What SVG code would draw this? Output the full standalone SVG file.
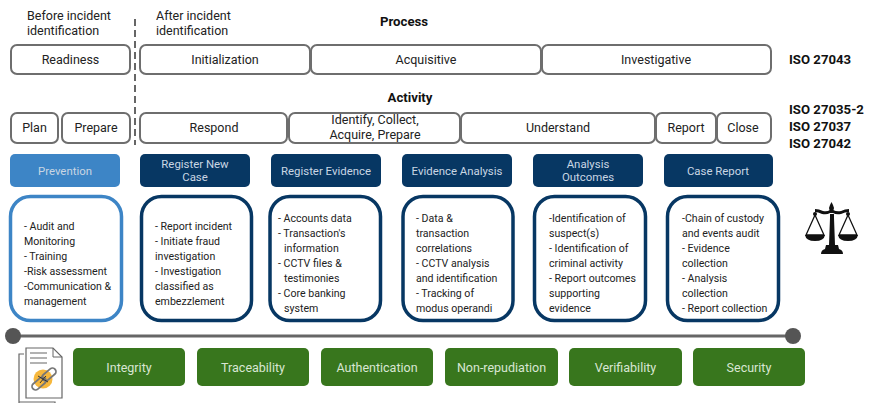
<svg xmlns="http://www.w3.org/2000/svg" width="869" height="403" viewBox="0 0 869 403">
<style>
text{font-family:Roboto,"Liberation Sans",sans-serif;fill:#222}
.c{text-anchor:middle}
.o{fill:#fff;stroke:#6e6e6e;stroke-width:2}
.ot{font-size:12.5px}
.h{font-size:11.4px;fill:#c9d6e3;text-anchor:middle}
.hb{fill:#073763}
.hl{fill:#3d85c6}
.d{fill:#fff;stroke:#073763;stroke-width:3.5}
.dl{stroke:#3d85c6}
.dt{font-size:10.6px}
.g{fill:#38761d}
.gt{font-size:12.5px;fill:#d9e6d3;text-anchor:middle}
.iso{font-size:13.2px;font-weight:700;fill:#111}
.b{font-size:13.2px;font-weight:700;fill:#111;text-anchor:middle}
</style>
<rect width="869" height="403" fill="#fff"/>
<g id="connectors">
<line x1="135" y1="19" x2="135" y2="145" stroke="#666" stroke-width="2" stroke-dasharray="7 4"/>
<line x1="13" y1="336" x2="793" y2="336" stroke="#666" stroke-width="3"/>
<circle cx="13" cy="336" r="8" fill="#555"/>
<circle cx="793" cy="336" r="8" fill="#555"/>
</g>
<g id="labels">
<text class="ot" x="27" y="20">Before incident</text><text class="ot" x="27" y="35">identification</text>
<text class="ot" x="156" y="20">After incident</text><text class="ot" x="156" y="35">identification</text>
<text class="b" x="404" y="26">Process</text>
<text class="b" x="410" y="102">Activity</text>
<text class="iso" x="789" y="64">ISO 27043</text>
<text class="iso" x="789" y="114">ISO 27035-2</text>
<text class="iso" x="789" y="131">ISO 27037</text>
<text class="iso" x="789" y="148">ISO 27042</text>
</g>
<g id="readiness"><rect class="o" x="11" y="45" width="119" height="29" rx="6"/><text class="ot c" x="70.500" y="64">Readiness</text></g>
<g id="initialization"><rect class="o" x="140" y="45" width="170" height="29" rx="6"/><text class="ot c" x="225" y="64">Initialization</text></g>
<g id="acquisitive"><rect class="o" x="311" y="45" width="230" height="29" rx="6"/><text class="ot c" x="426" y="64">Acquisitive</text></g>
<g id="investigative"><rect class="o" x="542" y="45" width="229" height="29" rx="6"/><text class="ot c" x="656" y="64">Investigative</text></g>
<g id="plan"><rect class="o" x="11" y="113" width="47" height="30" rx="6"/><text class="ot c" x="34.500" y="132">Plan</text></g>
<g id="prepare"><rect class="o" x="62" y="113" width="68" height="30" rx="6"/><text class="ot c" x="96" y="132">Prepare</text></g>
<g id="respond"><rect class="o" x="140" y="113" width="147" height="30" rx="6"/><text class="ot c" x="214" y="132">Respond</text></g>
<g id="identify"><rect class="o" x="289" y="113" width="171" height="30" rx="6"/><text class="ot c" x="375" y="124">Identify, Collect,</text><text class="ot c" x="375" y="139">Acquire, Prepare</text></g>
<g id="understand"><rect class="o" x="461" y="113" width="194" height="30" rx="6"/><text class="ot c" x="558" y="132">Understand</text></g>
<g id="report"><rect class="o" x="656" y="113" width="60" height="30" rx="6"/><text class="ot c" x="686" y="132">Report</text></g>
<g id="close"><rect class="o" x="717" y="113" width="54" height="30" rx="6"/><text class="ot c" x="743" y="132">Close</text></g>
<g id="prevention"><rect class="hl" x="10" y="154" width="110" height="33" rx="5"/><text class="h" x="65" y="175">Prevention</text></g>
<g id="register-new-case"><rect class="hb" x="140" y="154" width="110" height="33" rx="5"/><text class="h" x="195" y="168">Register New</text><text class="h" x="195" y="181">Case</text></g>
<g id="register-evidence"><rect class="hb" x="271" y="154" width="110" height="33" rx="5"/><text class="h" x="326" y="175">Register Evidence</text></g>
<g id="evidence-analysis"><rect class="hb" x="402" y="154" width="110" height="33" rx="5"/><text class="h" x="457" y="175">Evidence Analysis</text></g>
<g id="analysis-outcomes"><rect class="hb" x="533" y="154" width="110" height="33" rx="5"/><text class="h" x="588" y="168">Analysis</text><text class="h" x="588" y="181">Outcomes</text></g>
<g id="case-report"><rect class="hb" x="664" y="154" width="109" height="33" rx="5"/><text class="h" x="718" y="175">Case Report</text></g>
<g id="detail-prevention"><rect class="d dl" x="10.500" y="196.500" width="111" height="124" rx="20"/><text class="dt" x="24" y="230">- Audit and</text><text class="dt" x="24" y="245">Monitoring</text><text class="dt" x="24" y="260">- Training</text><text class="dt" x="24" y="275">-Risk assessment</text><text class="dt" x="24" y="290">-Communication &amp;</text><text class="dt" x="24" y="305">management</text></g>
<g id="detail-register-case"><rect class="d" x="141.500" y="196.500" width="110" height="124" rx="20"/><text class="dt" x="155" y="230">- Report incident</text><text class="dt" x="155" y="245">- Initiate fraud</text><text class="dt" x="155" y="260">investigation</text><text class="dt" x="155" y="275">- Investigation</text><text class="dt" x="155" y="290">classified as</text><text class="dt" x="155" y="305">embezzlement</text></g>
<g id="detail-register-evidence"><rect class="d" x="270" y="196.500" width="110.500" height="124" rx="20"/><text class="dt" x="278" y="222">- Accounts data</text><text class="dt" x="278" y="237">- Transaction's</text><text class="dt" x="284" y="252">information</text><text class="dt" x="278" y="267">- CCTV files &amp;</text><text class="dt" x="284" y="282">testimonies</text><text class="dt" x="278" y="297">- Core banking</text><text class="dt" x="284" y="312">system</text></g>
<g id="detail-evidence-analysis"><rect class="d" x="403" y="196.500" width="110" height="124" rx="20"/><text class="dt" x="416" y="222">- Data &amp;</text><text class="dt" x="416" y="237">transaction</text><text class="dt" x="416" y="252">correlations</text><text class="dt" x="416" y="267">- CCTV analysis</text><text class="dt" x="416" y="282">and identification</text><text class="dt" x="416" y="297">- Tracking of</text><text class="dt" x="416" y="312">modus operandi</text></g>
<g id="detail-outcomes"><rect class="d" x="534.500" y="196.500" width="111" height="124" rx="20"/><text class="dt" x="549" y="222">-Identification of</text><text class="dt" x="549" y="237">suspect(s)</text><text class="dt" x="549" y="252">- Identification of</text><text class="dt" x="549" y="267">criminal activity</text><text class="dt" x="549" y="282">- Report outcomes</text><text class="dt" x="549" y="297">supporting</text><text class="dt" x="549" y="312">evidence</text></g>
<g id="detail-case-report"><rect class="d" x="667.500" y="196.500" width="111" height="124" rx="20"/><text class="dt" x="682" y="222">-Chain of custody</text><text class="dt" x="682" y="237">and events audit</text><text class="dt" x="682" y="252">- Evidence</text><text class="dt" x="682" y="267">collection</text><text class="dt" x="682" y="282">- Analysis</text><text class="dt" x="682" y="297">collection</text><text class="dt" x="682" y="312">- Report collection</text></g>
<g id="integrity"><rect class="g" x="73" y="348" width="112" height="38" rx="5"/><text class="gt" x="129" y="372">Integrity</text></g>
<g id="traceability"><rect class="g" x="197" y="348" width="112" height="38" rx="5"/><text class="gt" x="253" y="372">Traceability</text></g>
<g id="authentication"><rect class="g" x="321" y="348" width="112" height="38" rx="5"/><text class="gt" x="377" y="372">Authentication</text></g>
<g id="non-repudiation"><rect class="g" x="445" y="348" width="113" height="38" rx="5"/><text class="gt" x="501.500" y="372">Non-repudiation</text></g>
<g id="verifiability"><rect class="g" x="569" y="348" width="113" height="38" rx="5"/><text class="gt" x="625.500" y="372">Verifiability</text></g>
<g id="security"><rect class="g" x="693" y="348" width="112" height="38" rx="5"/><text class="gt" x="749" y="372">Security</text></g>
<g id="document-icon" fill="none" stroke="#666">
<path d="M24 354H19V403M19 402H55V404" stroke-width="1.200"/>
<path d="M26 348H53L62 357V398H26Z" fill="#fff" stroke-width="1.200"/>
<path d="M53 348V357H62" stroke-width="1"/>
<path d="M30 353H47M30 358H47M30 363H47" stroke-width="1.200"/>
<circle cx="43" cy="379" r="9.500" fill="#f6b73c" stroke="none"/>
<rect x="31" y="380" width="16" height="7" rx="3.500" transform="rotate(-40 39 383.500)" stroke="#777" stroke-width="1.800"/>
<rect x="41" y="371" width="16" height="7" rx="3.500" transform="rotate(-40 49 374.500)" stroke="#777" stroke-width="1.800"/>
<path d="M38 376Q43 379 48 382M40 383Q43 379 46 376" stroke="#333" stroke-width="1"/>
</g>
<g id="scales-icon" fill="#111" stroke="none">
<path d="M830 205L831.500 202L833 205L834 208L833 212H830L829 208Z"/>
<path d="M815 209Q819 209 823 211Q827 212 830 210H833Q837 212 841 211Q845 209 849 209L849 212Q845 212 841 214Q836 215 833 213H830Q827 215 822 214Q818 212 815 212Z"/>
<circle cx="815" cy="214" r="2"/><circle cx="848" cy="214" r="2"/>
<path d="M830 214H834V218L835 245H829L830 218Z"/>
<path d="M826 245H838L839 249Q843 250 843 254H821Q821 250 825 249Z"/>
<path d="M805 235H825Q824 241 815 241Q806 241 805 235Z"/>
<path d="M838 235H858Q857 241 848 241Q839 241 838 235Z"/>
<path d="M815 215L806 235H824ZM848 215L839 235H857Z" stroke="#111" stroke-width="1.300" fill="none"/>
</g>
</svg>
